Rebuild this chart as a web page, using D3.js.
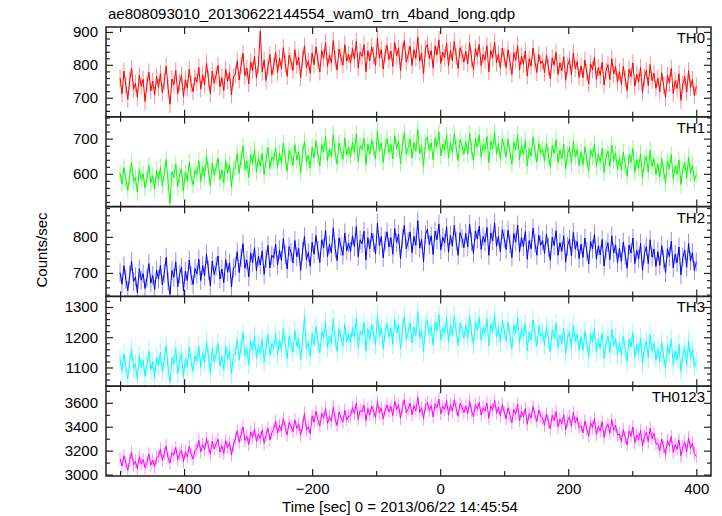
<!DOCTYPE html>
<html>
<head>
<meta charset="utf-8">
<script src="https://cdn.jsdelivr.net/npm/d3@7"></script>
<style>
  html, body { margin: 0; padding: 0; background: #fff; }
  svg { display: block; font-family: "Liberation Sans", Arial, Helvetica, sans-serif; }
</style>
</head>
<body>
<script>
// ---- DATA ----
const title = "ae808093010_20130622144554_wam0_trn_4band_long.qdp";
const xLabel = "Time [sec] 0 = 2013/06/22 14:45:54";
const yLabel = "Counts/sec";
const panelNames = ["TH0", "TH1", "TH2", "TH3", "TH0123"];
const panelColors = ["#ff0000", "#00ff00", "#0000ff", "#00ffff", "#ff00ff"];
const timeStart = -500;   // first bin [sec]
const timeStep = 3;       // bin width [sec]
const xTicksMajor = [-400, -200, 0, 200, 400];
const xTicksMinor = [-500, -300, -100, 100, 300];
const yDomains = [[642, 915], [507, 762], [635, 884], [1038, 1335], [2988, 3739]];
const yTicksMajor = [[700, 800, 900], [600, 700], [700, 800], [1100, 1200, 1300], [3000, 3200, 3400, 3600]];
const yMinorStep = [20, 20, 20, 20, 100];
const yErrors = [26, 24, 26, 32, 55];   // typical 1-sigma error bar per panel

const th0 = [
760,712,781,738,695,752,790,726,744,701,768,735,756,689,742,778,721,750,708,765,
731,774,715,749,796,728,680,757,739,783,712,746,768,703,755,729,787,741,718,762,
748,792,726,770,739,805,757,712,781,744,769,798,733,761,722,786,750,776,709,763,
771,812,754,798,835,767,790,742,809,783,826,760,800,902,778,815,752,794,831,769,
797,838,776,821,789,852,804,765,829,811,783,846,799,823,761,817,858,792,812,774,
836,801,855,812,778,843,820,867,795,829,806,874,817,784,848,823,799,861,811,832,
805,849,817,872,790,838,826,861,779,843,812,855,828,798,881,820,846,787,834,859,
816,842,795,868,827,851,782,839,874,809,831,857,798,846,820,885,811,836,772,849,
862,819,843,791,857,830,876,804,838,822,866,797,845,813,871,826,789,852,834,808,
841,803,867,818,785,849,826,862,797,832,815,858,779,844,821,869,806,833,790,851,
823,792,846,808,771,837,814,859,785,827,801,842,766,818,796,851,809,777,831,804,
812,776,829,793,758,821,799,838,771,806,782,825,753,797,815,769,836,788,810,762,
797,761,814,776,742,803,785,823,756,792,768,808,739,781,801,755,819,772,795,748,
779,741,795,758,722,787,764,806,735,771,748,792,716,763,783,737,801,752,774,729,
760,718,776,737,701,768,745,789,713,752,728,773,692,741,764,717,782,731,755,706,
735];

const th1 = [
602,571,618,585,553,596,631,578,590,548,612,583,600,560,587,624,574,595,556,609,
582,619,566,598,641,577,515,606,589,628,563,597,615,552,604,580,633,591,569,611,
598,637,579,620,592,651,608,566,632,596,618,645,584,611,575,636,603,627,562,614,
618,657,601,642,679,613,636,590,654,629,668,606,645,623,659,597,640,675,615,648,
637,674,618,659,630,688,645,607,667,651,624,683,640,662,603,655,693,633,652,616,
676,645,694,655,623,683,662,707,638,670,649,712,659,628,688,664,642,701,653,674,
649,690,661,713,635,680,669,702,626,685,656,697,671,643,721,664,688,632,677,700,
660,684,642,708,671,693,628,682,717,655,675,699,645,688,664,726,657,680,621,691,
705,665,688,639,701,677,719,651,684,669,711,645,690,660,714,673,637,697,681,656,
691,655,715,669,638,698,676,710,648,683,667,706,632,693,671,718,657,684,642,700,
677,648,699,663,627,690,668,711,641,681,656,695,622,672,650,704,664,633,686,659,
671,637,688,653,619,680,658,697,632,666,643,684,614,656,675,630,693,648,669,623,
661,626,677,642,609,668,649,686,621,657,633,673,604,646,665,620,682,637,659,613,
646,611,662,627,593,654,633,672,604,640,617,658,588,631,650,605,667,621,643,598,
628,592,643,609,574,636,615,655,586,622,599,640,570,613,632,588,648,604,625,580,
598];

const th2 = [
701,669,720,683,651,694,732,676,689,645,712,680,698,657,686,726,672,693,654,708,
683,721,667,699,743,676,640,707,688,731,662,697,716,650,705,679,736,692,668,712,
697,738,679,721,692,752,708,664,733,695,718,747,683,711,673,737,702,728,661,714,
718,759,701,742,781,713,736,689,755,729,770,706,746,722,761,696,740,776,714,749,
741,780,722,764,735,795,750,711,773,757,728,790,745,768,707,760,801,737,757,719,
785,752,804,763,729,792,770,818,745,779,756,825,767,734,797,773,749,811,761,783,
760,803,773,829,745,792,781,816,736,798,767,811,784,753,838,776,801,742,789,814,
772,798,752,823,784,807,739,795,832,767,788,814,756,801,777,845,769,793,731,806,
821,779,803,751,816,792,836,764,799,783,828,757,805,774,832,788,749,812,796,770,
810,772,835,787,754,817,794,830,765,801,785,826,749,811,789,839,774,802,759,820,
796,765,819,781,743,809,786,833,758,799,773,815,738,790,767,824,782,749,805,777,
790,754,808,771,735,799,776,817,749,784,760,803,730,774,794,747,813,766,788,740,
780,743,797,760,725,788,767,807,738,775,750,793,719,764,784,737,803,755,778,729,
769,732,786,749,713,777,755,797,726,763,739,782,707,753,773,726,792,744,766,718,
759,721,776,738,701,767,745,788,714,752,728,772,695,743,763,716,782,733,756,707,
731];

const th3 = [
1128,1089,1145,1103,1062,1118,1160,1097,1113,1058,1139,1101,1124,1071,1109,1153,1092,1120,1066,1134,
1106,1150,1085,1124,1172,1099,1051,1133,1111,1163,1080,1121,1145,1067,1131,1102,1168,1117,1088,1140,
1121,1170,1101,1148,1115,1186,1135,1082,1164,1118,1145,1180,1104,1138,1093,1169,1127,1157,1078,1141,
1143,1192,1124,1171,1215,1138,1163,1109,1186,1156,1204,1130,1175,1147,1194,1118,1168,1209,1139,1178,
1164,1210,1142,1191,1158,1228,1175,1129,1203,1183,1150,1222,1170,1197,1125,1186,1268,1160,1182,1137,
1212,1174,1235,1187,1148,1221,1196,1251,1167,1205,1179,1259,1191,1153,1228,1199,1171,1243,1185,1211,
1182,1233,1198,1262,1164,1220,1207,1248,1155,1228,1192,1243,1211,1175,1272,1201,1230,1162,1216,1245,
1200,1230,1176,1259,1214,1241,1161,1226,1269,1192,1218,1249,1181,1234,1206,1285,1196,1224,1152,1238,
1256,1207,1235,1174,1250,1222,1274,1190,1231,1213,1266,1183,1240,1204,1271,1218,1172,1247,1228,1197,
1241,1196,1270,1214,1176,1250,1223,1265,1189,1232,1212,1261,1171,1242,1216,1275,1201,1233,1183,1254,
1223,1187,1250,1206,1162,1240,1212,1267,1180,1228,1198,1246,1155,1217,1191,1257,1209,1170,1236,1203,
1215,1173,1236,1193,1151,1225,1198,1246,1166,1207,1179,1229,1145,1196,1219,1164,1241,1186,1211,1158,
1200,1157,1220,1177,1136,1210,1184,1231,1150,1193,1164,1214,1129,1181,1204,1148,1226,1171,1197,1142,
1183,1140,1203,1160,1118,1194,1167,1215,1133,1176,1147,1197,1112,1164,1187,1131,1210,1154,1180,1125,
1162,1118,1183,1138,1096,1173,1146,1194,1110,1155,1125,1176,1088,1143,1166,1109,1189,1131,1159,1101,
1120];

const th0123 = [
3132,3071,3158,3094,3036,3119,3187,3080,3112,3048,3149,3090,3125,3057,3103,3172,3078,3121,3064,3143,
3150,3213,3119,3172,3241,3138,3097,3186,3160,3228,3124,3176,3204,3109,3190,3148,3237,3169,3130,3199,
3219,3286,3190,3252,3208,3301,3236,3170,3279,3214,3257,3295,3188,3241,3176,3284,3226,3268,3163,3249,
3297,3368,3269,3334,3398,3285,3322,3251,3357,3311,3381,3276,3340,3303,3372,3260,3330,3391,3290,3349,
3378,3446,3345,3411,3366,3469,3394,3331,3437,3405,3360,3458,3385,3422,3328,3408,3512,3371,3403,3342,
3493,3437,3529,3459,3405,3512,3472,3551,3428,3484,3446,3566,3463,3410,3521,3477,3438,3540,3455,3491,
3488,3561,3510,3598,3461,3540,3524,3579,3450,3553,3497,3574,3527,3476,3612,3515,3558,3466,3536,3581,
3526,3571,3492,3612,3544,3583,3470,3563,3627,3515,3550,3596,3499,3575,3533,3648,3520,3558,3464,3579,
3601,3536,3577,3482,3592,3558,3632,3508,3569,3543,3619,3497,3584,3530,3626,3553,3488,3596,3565,3520,
3574,3510,3612,3535,3481,3586,3547,3603,3498,3560,3529,3598,3470,3575,3538,3621,3514,3562,3490,3589,
3523,3468,3559,3497,3433,3544,3505,3587,3451,3528,3482,3552,3421,3511,3471,3569,3500,3443,3538,3490,
3470,3411,3509,3442,3381,3496,3451,3528,3399,3463,3425,3503,3372,3447,3484,3405,3519,3433,3477,3391,
3409,3349,3447,3380,3321,3433,3392,3468,3336,3402,3364,3441,3311,3388,3423,3345,3459,3371,3414,3330,
3340,3278,3377,3309,3250,3364,3321,3399,3266,3332,3293,3371,3239,3318,3352,3274,3390,3301,3344,3259,
3259,3197,3296,3228,3169,3283,3240,3318,3184,3250,3211,3290,3157,3236,3271,3192,3308,3219,3262,3176,
3150];

const seriesList = [th0, th1, th2, th3, th0123];

// ---- LAYOUT ----
const W = 722, H = 516;
const plotLeft = 106, plotRight = 711, plotTop = 27, plotBottom = 476;
const nPanels = seriesList.length;
const panelH = (plotBottom - plotTop) / nPanels;
const axisColor = "#222";

const svg = d3.select("body").append("svg")
  .attr("width", W).attr("height", H)
  .attr("viewBox", `0 0 ${W} ${H}`);

const x = d3.scaleLinear().domain([-522, 423]).range([plotLeft, plotRight]);

svg.append("text")
  .attr("x", 108).attr("y", 19)
  .attr("font-size", 15).attr("fill", "#000")
  .text(title);

const fmt = d3.format("d");

seriesList.forEach((vals, i) => {
  const y0 = plotTop + i * panelH, y1 = y0 + panelH;
  const y = d3.scaleLinear().domain(yDomains[i]).range([y1, y0]);
  const g = svg.append("g");

  const clipId = "clip" + i;
  svg.append("clipPath").attr("id", clipId)
    .append("rect").attr("x", plotLeft).attr("y", y0).attr("width", plotRight - plotLeft).attr("height", panelH);

  const tx = k => x(timeStart + k * timeStep);
  const err = yErrors[i];

  const plot = g.append("g").attr("clip-path", `url(#${clipId})`);

  // error bars (lighter)
  plot.append("g")
    .selectAll("line")
    .data(vals)
    .join("line")
    .attr("x1", (d, k) => tx(k)).attr("x2", (d, k) => tx(k))
    .attr("y1", d => y(d - err)).attr("y2", d => y(d + err))
    .attr("stroke", panelColors[i])
    .attr("stroke-opacity", 0.45)
    .attr("stroke-width", 1);

  const line = d3.line()
    .x((d, k) => tx(k))
    .y(d => y(d));

  plot.append("path")
    .datum(vals)
    .attr("fill", "none")
    .attr("stroke", panelColors[i])
    .attr("stroke-width", 1)
    .attr("d", line);

  const [ya, yb] = yDomains[i];
  const step = yMinorStep[i];
  const minors = d3.range(Math.ceil(ya / step) * step, yb + 0.001, step)
    .filter(v => !yTicksMajor[i].includes(v));

  const styleAxis = sel => {
    sel.select(".domain").remove();
    sel.selectAll(".tick line").attr("stroke", axisColor).attr("stroke-width", 1.2);
    sel.selectAll(".tick text").attr("fill", "#000").attr("font-size", 15)
      .attr("font-family", '"Liberation Sans", Arial, Helvetica, sans-serif');
  };

  g.append("g").attr("transform", `translate(${plotLeft},0)`)
    .call(d3.axisLeft(y).tickValues(yTicksMajor[i]).tickSize(-7).tickPadding(8).tickFormat(fmt))
    .call(styleAxis);
  g.append("g").attr("transform", `translate(${plotLeft},0)`)
    .call(d3.axisLeft(y).tickValues(minors).tickSize(-4).tickFormat(""))
    .call(styleAxis);
  g.append("g").attr("transform", `translate(${plotRight},0)`)
    .call(d3.axisRight(y).tickValues(yTicksMajor[i]).tickSize(-7).tickFormat(""))
    .call(styleAxis);
  g.append("g").attr("transform", `translate(${plotRight},0)`)
    .call(d3.axisRight(y).tickValues(minors).tickSize(-4).tickFormat(""))
    .call(styleAxis);

  const isLast = i === nPanels - 1;
  g.append("g").attr("transform", `translate(0,${y1})`)
    .call(d3.axisBottom(x).tickValues(xTicksMajor).tickSize(-7).tickPadding(7)
      .tickFormat(isLast ? fmt : () => ""))
    .call(styleAxis);
  g.append("g").attr("transform", `translate(0,${y1})`)
    .call(d3.axisBottom(x).tickValues(xTicksMinor).tickSize(-5).tickFormat(""))
    .call(styleAxis);
  g.append("g").attr("transform", `translate(0,${y0})`)
    .call(d3.axisTop(x).tickValues(xTicksMajor).tickSize(-7).tickFormat(""))
    .call(styleAxis);
  g.append("g").attr("transform", `translate(0,${y0})`)
    .call(d3.axisTop(x).tickValues(xTicksMinor).tickSize(-5).tickFormat(""))
    .call(styleAxis);

  g.append("rect")
    .attr("x", plotLeft).attr("y", y0)
    .attr("width", plotRight - plotLeft).attr("height", panelH)
    .attr("fill", "none").attr("stroke", axisColor).attr("stroke-width", 1.5);

  g.append("text")
    .attr("x", 705).attr("y", y0 + 16)
    .attr("text-anchor", "end")
    .attr("font-size", 15).attr("fill", "#000")
    .text(panelNames[i]);
});

svg.append("text")
  .attr("transform", `translate(47,250) rotate(-90)`)
  .attr("text-anchor", "middle")
  .attr("font-size", 15).attr("fill", "#000")
  .text(yLabel);

svg.append("text")
  .attr("x", 400).attr("y", 512)
  .attr("text-anchor", "middle")
  .attr("font-size", 15).attr("fill", "#000")
  .text(xLabel);
</script>
</body>
</html>
